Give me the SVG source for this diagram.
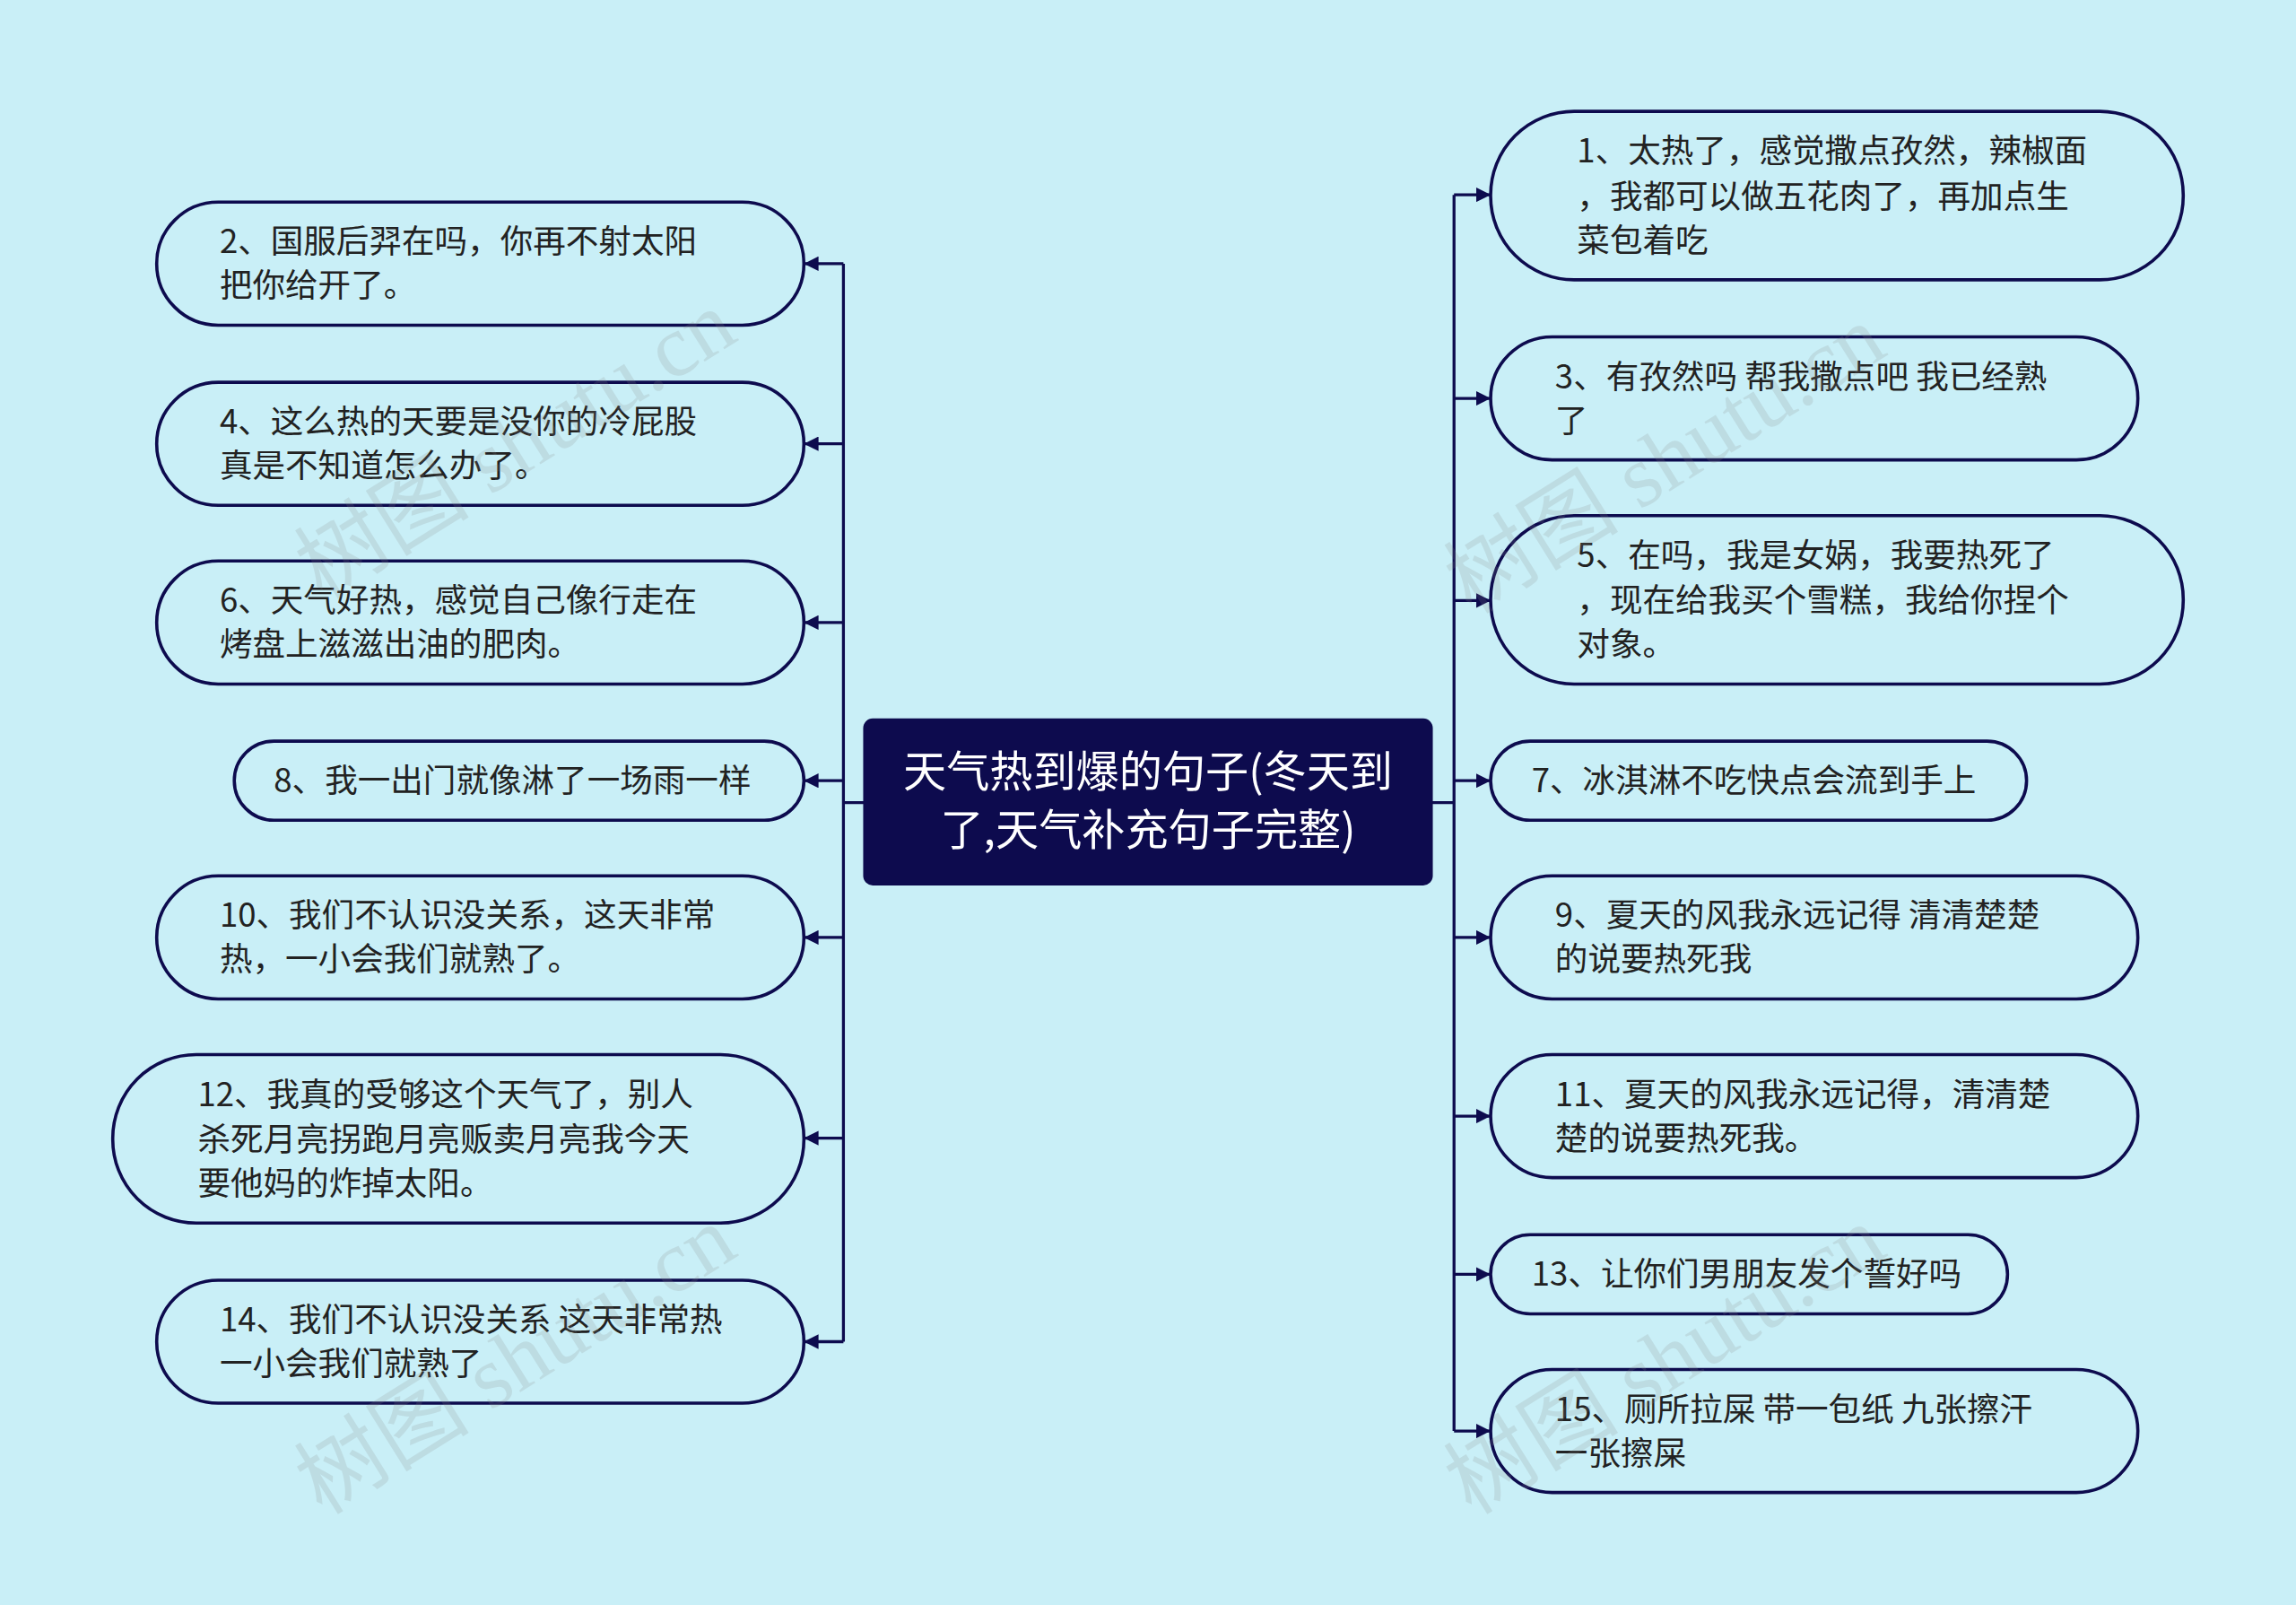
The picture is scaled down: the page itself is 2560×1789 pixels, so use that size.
<svg xmlns="http://www.w3.org/2000/svg" width="2560" height="1789" viewBox="0 0 2560 1789">
<defs>
<style>
.n{fill:#c9eff7;stroke:#0d0b4e;stroke-width:2.2}
.t{font-family:"Noto Sans CJK SC","Noto Sans",sans-serif;font-size:22.4px;fill:#222}
.c{font-family:"Noto Sans CJK SC","Noto Sans",sans-serif;font-size:29.5px;fill:#fff;text-anchor:middle}
.e{fill:none;stroke:#0d0b4e;stroke-width:2}
.w{font-family:"Liberation Serif","Noto Sans CJK SC",serif;font-size:60px;fill:#888;opacity:0.18}
</style>
<marker id="a" viewBox="0 0 10 10" refX="10" refY="5" markerWidth="5" markerHeight="5" orient="auto"><path d="M0,0L10,5L0,10z" fill="#0d0b4e"/></marker>
</defs>
<rect width="2560" height="1789" fill="#c9eff7"/>
<g transform="scale(1.63265)">
<g id="connectors">
<path class="e" d="M590,548H576M576,180V916M978,548H993M993,133V977"/>
<path class="e" marker-end="url(#a)" d="M576,180H549"/>
<path class="e" marker-end="url(#a)" d="M576,303H549"/>
<path class="e" marker-end="url(#a)" d="M576,425H549"/>
<path class="e" marker-end="url(#a)" d="M576,533H549"/>
<path class="e" marker-end="url(#a)" d="M576,640H549"/>
<path class="e" marker-end="url(#a)" d="M576,777H549"/>
<path class="e" marker-end="url(#a)" d="M576,916H549"/>
<path class="e" marker-end="url(#a)" d="M993,133H1018"/>
<path class="e" marker-end="url(#a)" d="M993,272H1018"/>
<path class="e" marker-end="url(#a)" d="M993,410H1018"/>
<path class="e" marker-end="url(#a)" d="M993,533H1018"/>
<path class="e" marker-end="url(#a)" d="M993,640H1018"/>
<path class="e" marker-end="url(#a)" d="M993,762H1018"/>
<path class="e" marker-end="url(#a)" d="M993,870H1018"/>
<path class="e" marker-end="url(#a)" d="M993,977H1018"/>
</g>
<g id="center"><rect x="590" y="491" width="388" height="113" rx="6" fill="#0d0b4e" stroke="#0d0b4e"/><text class="c" x="784" y="537">天气热到爆的句子(冬天到</text><text class="c" x="784" y="577">了,天气补充句子完整)</text></g>
<g id="n2"><rect class="n" x="107" y="138" width="442" height="84" rx="42"/><text class="t" x="150" y="173">2、国服后羿在吗，你再不射太阳</text><text class="t" x="150" y="203">把你给开了。</text></g>
<g id="n4"><rect class="n" x="107" y="261" width="442" height="84" rx="42"/><text class="t" x="150" y="296">4、这么热的天要是没你的冷屁股</text><text class="t" x="150" y="326">真是不知道怎么办了。</text></g>
<g id="n6"><rect class="n" x="107" y="383" width="442" height="84" rx="42"/><text class="t" x="150" y="418">6、天气好热，感觉自己像行走在</text><text class="t" x="150" y="448">烤盘上滋滋出油的肥肉。</text></g>
<g id="n8"><rect class="n" x="160" y="506" width="389" height="54" rx="27"/><text class="t" x="187" y="541">8、我一出门就像淋了一场雨一样</text></g>
<g id="n10"><rect class="n" x="107" y="598" width="442" height="84" rx="42"/><text class="t" x="150" y="633">10、我们不认识没关系，这天非常</text><text class="t" x="150" y="663">热，一小会我们就熟了。</text></g>
<g id="n12"><rect class="n" x="77" y="720" width="472" height="115" rx="57"/><text class="t" x="135" y="755">12、我真的受够这个天气了，别人</text><text class="t" x="135" y="786">杀死月亮拐跑月亮贩卖月亮我今天</text><text class="t" x="135" y="816">要他妈的炸掉太阳。</text></g>
<g id="n14"><rect class="n" x="107" y="874" width="442" height="84" rx="42"/><text class="t" x="150" y="909">14、我们不认识没关系 这天非常热</text><text class="t" x="150" y="939"> 一小会我们就熟了</text></g>
<g id="n1"><rect class="n" x="1018" y="76" width="473" height="115" rx="57"/><text class="t" x="1077" y="111">1、太热了，感觉撒点孜然，辣椒面</text><text class="t" x="1077" y="142">，我都可以做五花肉了，再加点生</text><text class="t" x="1077" y="172">菜包着吃</text></g>
<g id="n3"><rect class="n" x="1018" y="230" width="442" height="84" rx="42"/><text class="t" x="1062" y="265">3、有孜然吗 帮我撒点吧 我已经熟</text><text class="t" x="1062" y="295">了</text></g>
<g id="n5"><rect class="n" x="1018" y="352" width="473" height="115" rx="57"/><text class="t" x="1077" y="387">5、在吗，我是女娲，我要热死了</text><text class="t" x="1077" y="418">，现在给我买个雪糕，我给你捏个</text><text class="t" x="1077" y="448">对象。</text></g>
<g id="n7"><rect class="n" x="1018" y="506" width="366" height="54" rx="27"/><text class="t" x="1046" y="541">7、冰淇淋不吃快点会流到手上</text></g>
<g id="n9"><rect class="n" x="1018" y="598" width="442" height="84" rx="42"/><text class="t" x="1062" y="633">9、夏天的风我永远记得 清清楚楚</text><text class="t" x="1062" y="663">的说要热死我</text></g>
<g id="n11"><rect class="n" x="1018" y="720" width="442" height="84" rx="42"/><text class="t" x="1062" y="755">11、夏天的风我永远记得，清清楚</text><text class="t" x="1062" y="785">楚的说要热死我。</text></g>
<g id="n13"><rect class="n" x="1018" y="843" width="353" height="54" rx="27"/><text class="t" x="1046" y="878">13、让你们男朋友发个誓好吗</text></g>
<g id="n15"><rect class="n" x="1018" y="935" width="442" height="84" rx="42"/><text class="t" x="1062" y="970">15、厕所拉屎 带一包纸 九张擦汗</text><text class="t" x="1062" y="1000">一张擦屎</text></g>
<g id="watermarks">
<text class="w" transform="translate(220,410) rotate(-32)">树图 shutu.cn</text>
<text class="w" transform="translate(220,1035) rotate(-32)">树图 shutu.cn</text>
<text class="w" transform="translate(1005,420) rotate(-32)">树图 shutu.cn</text>
<text class="w" transform="translate(1005,1035) rotate(-32)">树图 shutu.cn</text>
</g>
</g>
</svg>
